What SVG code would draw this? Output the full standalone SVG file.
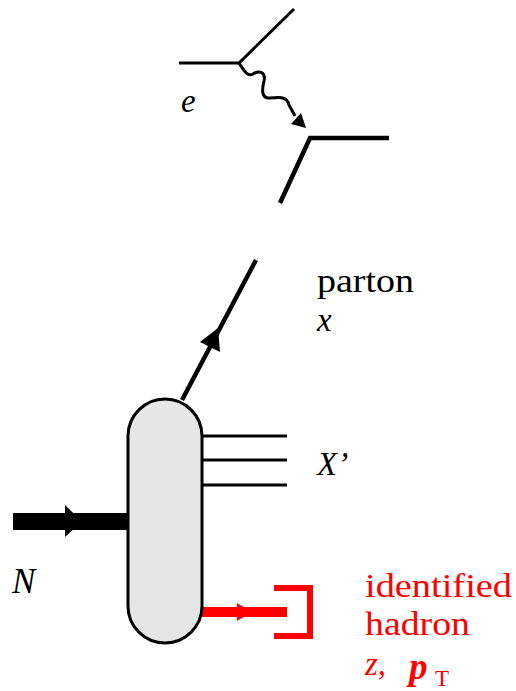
<svg xmlns="http://www.w3.org/2000/svg" width="516" height="691" viewBox="0 0 516 691">
<style>
.ln{fill:none;stroke:#000}
.hd{fill:#000;stroke:none}
.red{fill:#ff0000}
.it{font-style:italic}
</style>
<rect width="516" height="691" fill="#fff"/>
<g id="connectors">
  <polyline class="ln" points="179,63 239,63 294,9" stroke-width="3"/>
  <path class="ln" d="M239,63 C244,70 247,77 253,74 C259,70 266,72 264,81 C262,89 261,99 270,98 C278,97 287,96 289,105 L295,116" stroke-width="3"/>
  <polygon class="hd" points="306,128 291,124 301,113"/>
  <polyline class="ln" points="389,138 310,138 280,203" stroke-width="4.5"/>
  <line class="ln" x1="256" y1="260" x2="182" y2="400" stroke-width="4.5"/>
  <polygon class="hd" points="218,328 200,342 220,352"/>
  <line class="ln" x1="13" y1="521.5" x2="130" y2="521.5" stroke-width="17"/>
  <polygon class="hd" points="65,505 65,537 82,521.5"/>
  <line class="ln" x1="200" y1="436" x2="287" y2="436" stroke-width="3"/>
  <line class="ln" x1="200" y1="460" x2="287" y2="460" stroke-width="3"/>
  <line class="ln" x1="200" y1="485" x2="287" y2="485" stroke-width="3"/>
  <line x1="200" y1="612" x2="287" y2="612" stroke="#ff0000" stroke-width="10"/>
  <polygon class="red" points="237,603 237,621 252,612"/>
  <polyline points="274,588 310,588 310,636 274,636" fill="none" stroke="#ff0000" stroke-width="6"/>
</g>
<g id="blob">
  <rect x="128" y="399" width="74" height="244" rx="37" ry="37" fill="#e6e6e6" stroke="#000" stroke-width="3"/>
</g>
<g id="labels" font-family="Liberation Serif" font-size="33" fill="#000">
  <text class="it" x="181" y="112">e</text>
  <text x="317" y="292" textLength="97" lengthAdjust="spacingAndGlyphs">parton</text>
  <text class="it" x="317" y="331">x</text>
  <text class="it" x="317" y="475">X’</text>
  <text class="it" x="12" y="593" font-size="35">N</text>
  <g id="hadron-label">
    <text class="red" x="365" y="597" textLength="147" lengthAdjust="spacingAndGlyphs">identified</text>
    <text class="red" x="365" y="635" textLength="105" lengthAdjust="spacingAndGlyphs">hadron</text>
    <text class="red it" x="365" y="675">z,</text>
    <text class="red it" x="409" y="679" font-size="37" font-weight="bold">p</text>
    <text class="red" x="435" y="686" font-size="23">T</text>
  </g>
</g>
</svg>
